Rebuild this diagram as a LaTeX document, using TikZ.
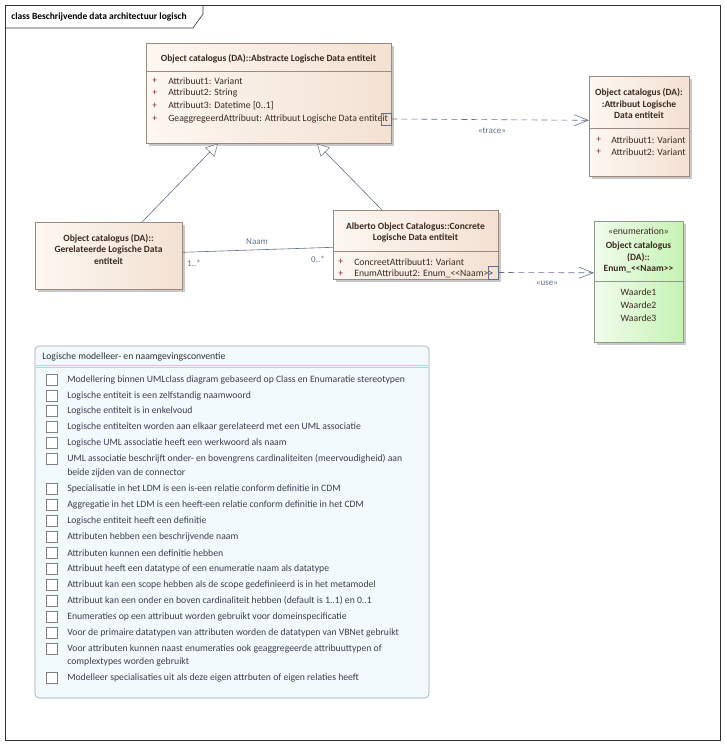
\documentclass[tikz,border=0pt]{standalone}
\usepackage{fontspec}
\setmainfont{Carlito}
\usetikzlibrary{arrows.meta,calc,positioning}

\definecolor{clsline}{HTML}{9C8A80}
\definecolor{clsA}{HTML}{FDF7F2}
\definecolor{clsB}{HTML}{F3E1D2}
\definecolor{clstext}{HTML}{3A2A20}
\definecolor{plustext}{HTML}{7A2E2E}
\definecolor{enumA}{HTML}{F0FCEB}
\definecolor{enumB}{HTML}{C6F3B5}
\definecolor{enumline}{HTML}{8F9A8C}
\definecolor{conline}{HTML}{5F6F8F}
\definecolor{notefill}{HTML}{F2FAFE}
\definecolor{noteline}{HTML}{9EA6AE}
\definecolor{notebar}{HTML}{A6DAF2}
\definecolor{notetext}{HTML}{3D3D4D}
\definecolor{shadowgray}{HTML}{C8C8C8}

\newcommand{\dlt}{<\kern0pt<}
\newcommand{\dgt}{>\kern0pt>}

\tikzset{
  clsbox/.style={draw=clsline, left color=clsA, right color=clsB, anchor=north west, inner sep=0pt},
  enumbox/.style={draw=enumline, left color=enumA, right color=enumB, anchor=north west, inner sep=0pt},
  portbox/.style={draw=conline, inner sep=0pt, minimum width=10pt, minimum height=12pt},
  ttl/.style={font=\fontsize{9.5}{11.5}\selectfont\bfseries, text=clstext, inner sep=0pt},
  attr/.style={font=\fontsize{9.7}{11.5}\selectfont, text=clstext, anchor=west, inner sep=0pt},
  plus/.style={font=\fontsize{9.7}{11.5}\selectfont, text=plustext, anchor=west, inner sep=0pt},
  lbl/.style={font=\fontsize{9}{10}\selectfont, text=conline, inner sep=0pt},
  chkbox/.style={draw=gray, fill=white, minimum size=11pt, inner sep=0pt},
  chktext/.style={font=\fontsize{9.7}{11.5}\selectfont, text=notetext, anchor=west, inner sep=0pt},
  generalize/.style={draw=conline, -{Triangle[open, fill=white, color=gray, length=12pt, width=13pt]}},
  depend/.style={draw=conline, dash pattern=on 6pt off 4pt, -{Straight Barb[length=14pt, width=11pt]}}
}

\begin{document}
\begin{tikzpicture}[x=1pt, y=-1pt, line width=0.6pt]
  \useasboundingbox (0,0) rectangle (725,745);

  % Draw the frame with its tab
  \draw[black!80] (5,5) rectangle (720,740);
  \draw[black!80] (5,28) -- (193,28) -- (203,14) -- (203,5);
  \node[ttl, text=black, anchor=west] (frametitle) at (11,17) {class Beschrijvende data architectuur logisch};

  % Draw the shadows
  \fill[shadowgray] (149,46) rectangle (394,146);
  \fill[shadowgray] (592,79) rectangle (692,179);
  \fill[shadowgray] (38,225) rectangle (185,292);
  \fill[shadowgray] (336,213) rectangle (501,282);
  \fill[shadowgray] (597,224) rectangle (686,345);

  % Abstracte Logische Data entiteit
  \node[clsbox, minimum width=245pt, minimum height=100pt] (abstract) at (146,43) {};
  \draw[clsline] (146,71) -- (391,71);
  \node[ttl] (abstracttitle) at (268.5,59) {Object catalogus (DA)::Abstracte Logische Data entiteit};
  \foreach \y/\txt in {81/Attribuut1: Variant, 93/Attribuut2: String, 106/{Attribuut3: Datetime [0..1]}, 119/GeaggregeerdAttribuut: Attribuut Logische Data entiteit} {
    \node[plus] at (152,\y) {+};
    \node[attr] at (168,\y) {\txt};
  }
  \node[portbox] (traceport) at (386,119) {};

  % Attribuut Logische Data entiteit
  \node[clsbox, minimum width=100pt, minimum height=100pt] (attribuut) at (589,76) {};
  \draw[clsline] (589,128) -- (689,128);
  \node[ttl, align=center] (attribuuttitle) at (639,104) {Object catalogus (DA):\\:Attribuut Logische\\Data entiteit};
  \foreach \y/\txt in {140/Attribuut1: Variant, 152/Attribuut2: Variant} {
    \node[plus] at (596,\y) {+};
    \node[attr] at (611,\y) {\txt};
  }

  % Gerelateerde Logische Data entiteit
  \node[clsbox, minimum width=147pt, minimum height=67pt] (gerel) at (35,222) {};
  \node[ttl, align=center] (gereltitle) at (108.5,249.5) {Object catalogus (DA)::\\Gerelateerde Logische Data\\entiteit};

  % Concrete Logische Data entiteit
  \node[clsbox, minimum width=165pt, minimum height=69pt] (concrete) at (333,210) {};
  \draw[clsline] (333,251) -- (498,251);
  \node[ttl, align=center] (concretetitle) at (415.5,232.5) {Alberto Object Catalogus::Concrete\\Logische Data entiteit};
  \foreach \y/\txt in {262/ConcreetAttribuut1: Variant, 274/EnumAttribuut2: Enum\_\dlt Naam\dgt} {
    \node[plus] at (338,\y) {+};
    \node[attr] at (354,\y) {\txt};
  }
  \node[portbox, minimum height=13pt] (useport) at (493,272.5) {};

  % Enumeration
  \node[enumbox, minimum width=89pt, minimum height=121pt] (enum) at (594,221) {};
  \draw[enumline] (594,281) -- (683,281);
  \node[attr, anchor=center] (enumstereo) at (638.5,231) {«enumeration»};
  \node[ttl, align=center] (enumtitle) at (638.5,257.5) {Object catalogus\\(DA)::\\Enum\_\dlt Naam\dgt};
  \foreach \y/\txt in {292/Waarde1, 305/Waarde2, 318/Waarde3}
    \node[attr, anchor=center] at (638.5,\y) {\txt};

  % Draw the connectors
  \draw[generalize] ($(gerel.north west)+(107,0)$) -- ($(abstract.south west)+(72,0)$);
  \draw[generalize] ($(concrete.north west)+(49,0)$) -- ($(abstract.south west)+(171,0)$);
  \draw[conline] ([yshift=3.5pt]gerel.east) -- ([yshift=-2.5pt]concrete.west);
  \draw[depend] (traceport.east) -- ([yshift=6pt]attribuut.west);
  \draw[depend] (useport.east) -- ([yshift=9pt]enum.west);

  % Connector labels
  \node[lbl] (naam) at (257,242) {Naam};
  \node[lbl] (multA) at (194,263) {1..*};
  \node[lbl] (multB) at (318,259) {0..*};
  \node[lbl] (trace) at (492,131) {«trace»};
  \node[lbl] (use) at (547,283) {«use»};

  % Draw the note with the conventions
  \draw[noteline, fill=notefill, rounded corners=4pt] (35,346) rectangle (429,698);
  \draw[notebar] (36,365) -- (428,365);
  \draw[notebar] (36,367.5) -- (428,367.5);
  \node[chktext, text=black!80] (notetitle) at (42,357) {Logische modelleer- en naamgevingsconventie};
  \foreach \y in {380,396,411,427,443,459,489,505,521,537,553,569,585,601,617,633,649,678}
    \node[chkbox] at (51.5,\y) {};
  \foreach \y/\txt in {
      380/Modellering binnen UMLclass diagram gebaseerd op Class en Enumaratie stereotypen,
      396/Logische entiteit is een zelfstandig naamwoord,
      411/Logische entiteit is in enkelvoud,
      427/Logische entiteiten worden aan elkaar gerelateerd met een UML associatie,
      443/Logische UML associatie heeft een werkwoord als naam,
      459/UML associatie beschrijft onder- en bovengrens cardinaliteiten (meervoudigheid) aan,
      473/beide zijden van de connector,
      489/Specialisatie in het LDM is een is-een relatie conform definitie in CDM,
      505/Aggregatie in het LDM is een heeft-een relatie conform definitie in het CDM,
      521/Logische entiteit heeft een definitie,
      537/Attributen hebben een beschrijvende naam,
      553/Attributen kunnen een definitie hebben,
      569/Attribuut heeft een datatype of een enumeratie naam als datatype,
      585/Attribuut kan een scope hebben als de scope gedefinieerd is in het metamodel,
      601/Attribuut kan een onder en boven cardinaliteit hebben (default is 1..1) en 0..1,
      617/Enumeraties op een attribuut worden gebruikt voor domeinspecificatie,
      633/Voor de primaire datatypen van attributen worden de datatypen van VBNet gebruikt,
      649/Voor attributen kunnen naast enumeraties ook geaggregeerde attribuuttypen of,
      662/complextypes worden gebruikt,
      678/Modelleer specialisaties uit als deze eigen attrbuten of eigen relaties heeft}
    \node[chktext] at (67,\y) {\txt};

\end{tikzpicture}
\end{document}
